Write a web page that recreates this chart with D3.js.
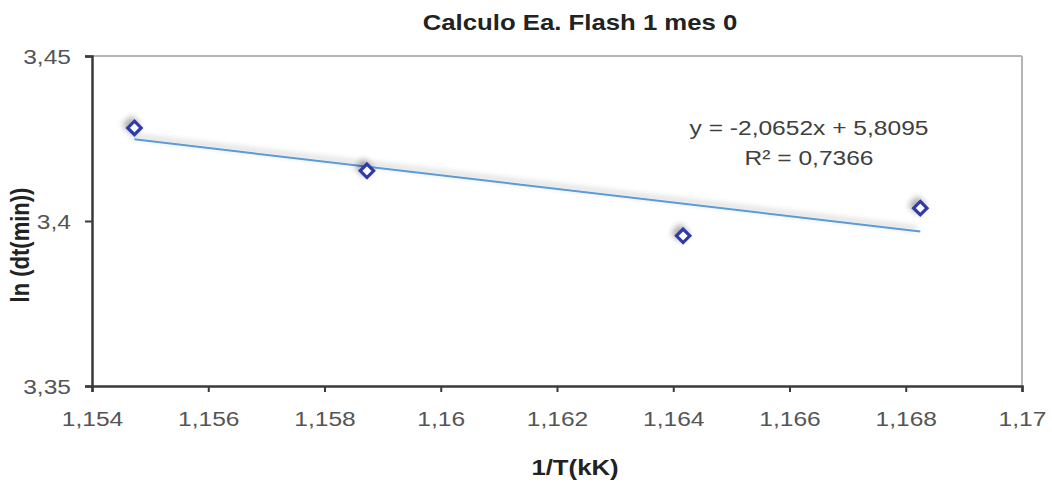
<!DOCTYPE html>
<html>
<head>
<meta charset="utf-8">
<script src="https://cdn.jsdelivr.net/npm/d3@7"></script>
<style>
  html, body { margin: 0; padding: 0; background: #fff; }
  svg { display: block; font-family: "Liberation Sans", Arial, sans-serif; }
</style>
</head>
<body>
<svg id="chart" width="1052" height="483"></svg>
<script>
// Measured points: 1/T (kK) against ln(dt in minutes)
const invT = [1.15473, 1.15873, 1.16417, 1.16825];
const lnDt = [3.4282, 3.4152, 3.3955, 3.4039];

// Linear fit reported on the chart
const slope = -2.0652;
const intercept = 5.8095;
const r2 = 0.7366;

const xTicks = [1.154, 1.156, 1.158, 1.16, 1.162, 1.164, 1.166, 1.168, 1.17];
const yTicks = [3.35, 3.4, 3.45];

const titleText = "Calculo Ea. Flash 1 mes 0";
const xTitle = "1/T(kK)";
const yTitle = "ln (dt(min))";

const fmt = v => String(+v.toFixed(4)).replace(".", ",");
const SX = 1.17; // wide lettering

const svg = d3.select("#chart");
const plot = { left: 92, right: 1022, top: 56, bottom: 386 };

const x = d3.scaleLinear().domain([1.154, 1.17]).range([plot.left, plot.right]);
const y = d3.scaleLinear().domain([3.35, 3.45]).range([plot.bottom, plot.top]);

// soft drop shadow used for the markers and the fitted line
const defs = svg.append("defs");
const f = defs.append("filter").attr("id", "shadow")
  .attr("x", "-100%").attr("y", "-100%").attr("width", "300%").attr("height", "300%");
f.append("feGaussianBlur").attr("in", "SourceAlpha").attr("stdDeviation", 3).attr("result", "b");
f.append("feOffset").attr("in", "b").attr("dx", -3).attr("dy", -3).attr("result", "o");
f.append("feComponentTransfer").attr("in", "o").attr("result", "s")
  .append("feFuncA").attr("type", "linear").attr("slope", 0.35);
const m = f.append("feMerge");
m.append("feMergeNode").attr("in", "s");
m.append("feMergeNode").attr("in", "SourceGraphic");

// plot frame: light top/right, dark axes
svg.append("line").attr("x1", plot.left).attr("x2", plot.right)
  .attr("y1", plot.top).attr("y2", plot.top)
  .attr("stroke", "#b5b5b5").attr("stroke-width", 2);
svg.append("line").attr("x1", plot.right).attr("x2", plot.right)
  .attr("y1", plot.top).attr("y2", plot.bottom)
  .attr("stroke", "#b5b5b5").attr("stroke-width", 2);

const xAxis = svg.append("g")
  .attr("transform", `translate(0,${plot.bottom})`)
  .call(d3.axisBottom(x).tickValues(xTicks).tickFormat(fmt).tickSize(6));
const yAxis = svg.append("g")
  .attr("transform", `translate(${plot.left},0)`)
  .call(d3.axisLeft(y).tickValues(yTicks).tickFormat(fmt).tickSize(7).tickPadding(11));

[xAxis, yAxis].forEach(g => {
  g.select(".domain").attr("stroke", "#3a3a3a").attr("stroke-width", 2.5);
  g.selectAll(".tick line").attr("stroke", "#3a3a3a").attr("stroke-width", 2);
  g.selectAll(".tick text")
    .attr("fill", "#555").attr("font-size", 21)
    .attr("font-family", "'Liberation Sans', Arial, sans-serif")
    .attr("transform", `scale(${SX},1)`);
});
xAxis.selectAll(".tick text").attr("y", 40).attr("dy", null);
yAxis.selectAll(".tick text").attr("dy", "0.38em");

// fitted line drawn from the reported equation over the data range
const xMin = d3.min(invT), xMax = d3.max(invT);
svg.append("line")
  .attr("x1", x(xMin)).attr("y1", y(slope * xMin + intercept))
  .attr("x2", x(xMax)).attr("y2", y(slope * xMax + intercept))
  .attr("stroke", "#5b9bd5").attr("stroke-width", 2)
  .attr("filter", "url(#shadow)");

// data markers (diamonds)
const diamond = d3.symbol().type(d3.symbolDiamond2).size(115);
svg.append("g").selectAll("path")
  .data(invT.map((v, i) => [v, lnDt[i]]))
  .join("path")
  .attr("d", diamond)
  .attr("transform", d => `translate(${x(d[0])},${y(d[1])})`)
  .attr("fill", "#fff")
  .attr("stroke", "#2f3aa8")
  .attr("stroke-width", 3.2)
  .attr("filter", "url(#shadow)");

// horizontally widened text helper
function wideText(cx, cy, str, size, bold, fill) {
  return svg.append("text")
    .attr("transform", `translate(${cx},${cy}) scale(${SX},1)`)
    .attr("text-anchor", "middle")
    .attr("font-weight", bold ? "bold" : null)
    .attr("font-size", size).attr("fill", fill).text(str);
}

// regression label
wideText(809, 135, `y = ${fmt(slope)}x + ${fmt(intercept)}`, 21, false, "#404040");
wideText(809, 165, `R² = ${fmt(r2)}`, 21, false, "#404040");

// titles
wideText(580, 30, titleText, 22, true, "#222");
wideText(575, 475, xTitle, 22, true, "#222");
svg.append("text")
  .attr("transform", `translate(29,245) rotate(-90) scale(1,${SX})`)
  .attr("text-anchor", "middle").attr("font-weight", "bold")
  .attr("font-size", 22).attr("fill", "#222").text(yTitle);
</script>
</body>
</html>
